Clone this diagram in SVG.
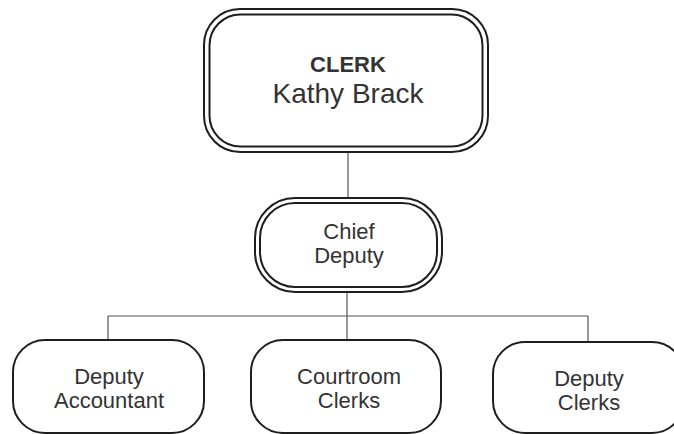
<svg xmlns="http://www.w3.org/2000/svg" width="674" height="434" viewBox="0 0 674 434">
<style>
.bg{fill:#ffffff}
.box{fill:none;stroke:#1e1e1e;stroke-width:2}
.wire{fill:none;stroke:#555555;stroke-width:1.2}
.t{font-family:"Liberation Sans",Arial,sans-serif;fill:#333333;text-anchor:middle}
.b{font-weight:bold}
</style>
<rect class="bg" x="0" y="0" width="674" height="434"/>
<g id="connectors">
<line class="wire" x1="348" y1="152" x2="348" y2="198"/>
<line class="wire" x1="347" y1="292" x2="347" y2="340"/>
<line class="wire" x1="108" y1="316" x2="588" y2="316"/>
<line class="wire" x1="108" y1="316" x2="108" y2="340"/>
<line class="wire" x1="588" y1="316" x2="588" y2="342"/>
</g>
<g id="clerk">
<rect class="box" x="204" y="9" width="284" height="143" rx="36"/>
<rect class="box" x="209.5" y="14.5" width="273" height="132" rx="31"/>
<text class="t b" x="348" y="72" font-size="22">CLERK</text>
<text class="t" x="348" y="103" font-size="28">Kathy Brack</text>
</g>
<g id="chief-deputy">
<rect class="box" x="255" y="198" width="187" height="94" rx="40"/>
<rect class="box" x="260" y="203" width="177" height="84" rx="35"/>
<text class="t" x="349" y="239" font-size="22">Chief</text>
<text class="t" x="349" y="263" font-size="22">Deputy</text>
</g>
<g id="deputy-accountant">
<rect class="box" x="13" y="340" width="191" height="93" rx="32"/>
<text class="t" x="109" y="384" font-size="22">Deputy</text>
<text class="t" x="109" y="408" font-size="22">Accountant</text>
</g>
<g id="courtroom-clerks">
<rect class="box" x="251" y="340" width="190" height="93" rx="32"/>
<text class="t" x="349" y="384" font-size="22">Courtroom</text>
<text class="t" x="349" y="408" font-size="22">Clerks</text>
</g>
<g id="deputy-clerks">
<rect class="box" x="493" y="342" width="191" height="91" rx="32"/>
<text class="t" x="589" y="386" font-size="22">Deputy</text>
<text class="t" x="589" y="410" font-size="22">Clerks</text>
</g>
</svg>
